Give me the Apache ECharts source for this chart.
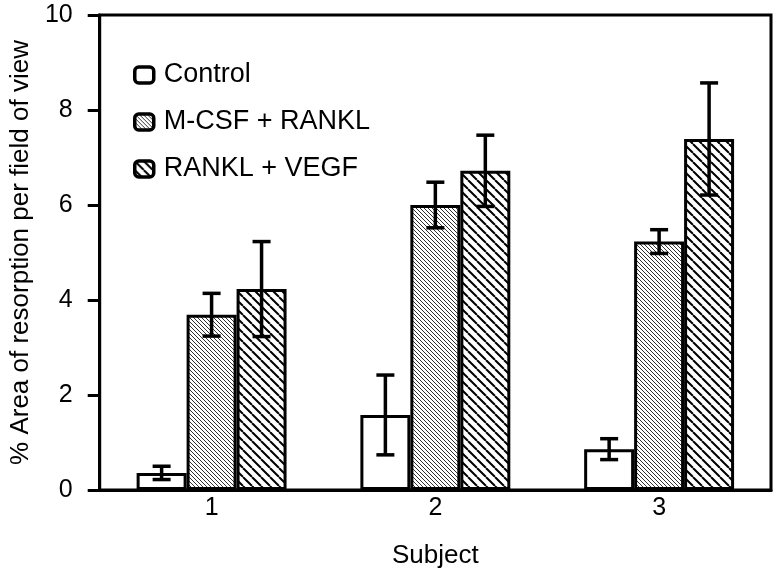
<!DOCTYPE html>
<html>
<head>
<meta charset="utf-8">
<script src="https://cdn.jsdelivr.net/npm/echarts@6/dist/echarts.min.js"></script>
<style>html,body{margin:0;padding:0;background:#fff}#c{width:777px;height:577px}</style>
</head>
<body>
<div id="c"></div>
<script>
const categories = ['1', '2', '3'];
const seriesNames = ['Control', 'M-CSF + RANKL', 'RANKL + VEGF'];
const controlVals = [0.36, 1.58, 0.86];
const controlErr = [0.14, 0.84, 0.22];
const mcsfVals = [3.69, 6.0, 5.23];
const mcsfErr = [0.45, 0.48, 0.25];
const vegfVals = [4.23, 6.72, 7.39];
const vegfErr = [1.0, 0.75, 1.18];
const yTicks = [0, 2, 4, 6, 8, 10];

function hatch(n, lw, color) {
  const c = document.createElement('canvas');
  c.width = n; c.height = n;
  const g = c.getContext('2d');
  g.fillStyle = '#fff'; g.fillRect(0, 0, n, n);
  g.strokeStyle = color; g.lineWidth = lw;
  g.beginPath();
  for (const k of [-n, 0, n]) { g.moveTo(k, 0); g.lineTo(k + n, n); }
  g.stroke();
  return c;
}
const fine = hatch(4, 1, '#333');
const coarse = hatch(9, 2, '#000');

const vals = [controlVals, mcsfVals, vegfVals];
const errs = [controlErr, mcsfErr, vegfErr];
const fills = ['#fff', {image: fine, repeat: 'repeat'}, {image: coarse, repeat: 'repeat'}];

const errData = [];
vals.forEach((v, s) => v.forEach((m, i) => errData.push([i, m, errs[s][i], s])));

const FONT = 'Liberation Sans';
const chart = echarts.init(document.getElementById('c'));
chart.setOption({
  animation: false,
  textStyle: {fontFamily: FONT, color: '#000'},
  grid: {left: 97, right: 6, top: 15, bottom: 87, show: true, borderColor: '#000', borderWidth: 3},
  legend: {
    data: seriesNames, orient: 'vertical', left: 128, top: 56, itemWidth: 19, itemHeight: 16,
    itemGap: 19, itemStyle: {borderWidth: 3.5},
    textStyle: {fontSize: 27, lineHeight: 28, fontFamily: FONT, color: '#000', padding: [0, 0, 0, 5]}
  },
  xAxis: {
    type: 'category', data: categories, name: 'Subject', nameLocation: 'middle', nameGap: 53,
    nameTextStyle: {fontSize: 26, fontFamily: FONT, color: '#000'},
    axisLine: {lineStyle: {color: '#000', width: 3}},
    axisTick: {length: 10, lineStyle: {color: '#000', width: 3}},
    axisLabel: {fontSize: 25, color: '#000', margin: 6, fontFamily: FONT}
  },
  yAxis: {
    type: 'value', min: yTicks[0], max: yTicks[yTicks.length - 1], interval: 2,
    name: '% Area of resorption per field of view', nameLocation: 'middle', nameGap: 63,
    nameTextStyle: {fontSize: 26, fontFamily: FONT, color: '#000'},
    splitLine: {show: false},
    axisLine: {show: true, lineStyle: {color: '#000', width: 3}},
    axisTick: {show: true, length: 12, lineStyle: {color: '#000', width: 3}},
    axisLabel: {fontSize: 25, color: '#000', margin: 27, fontFamily: FONT}
  },
  series: seriesNames.map((name, s) => ({
    name, type: 'bar', data: vals[s], barGap: '0%', barCategoryGap: '33%',
    itemStyle: {color: fills[s], borderColor: '#000', borderWidth: 3}
  })).concat([{
    type: 'custom', name: 'err', data: errData, z: 10,
    renderItem: function (params, api) {
      const cat = api.value(0), m = api.value(1), e = api.value(2), s = api.value(3);
      const bw = api.size([1, 0])[0] * 0.67 / 3;
      const c = api.coord([cat, m]);
      const x = c[0] + (s - 1) * bw;
      const hi = api.coord([cat, m + e])[1];
      const lo = api.coord([cat, m - e])[1];
      const hw = 9;
      const st = {stroke: '#000', lineWidth: 3.5, fill: null};
      return {type: 'group', children: [
        {type: 'line', shape: {x1: x, y1: hi, x2: x, y2: lo}, style: st},
        {type: 'line', shape: {x1: x - hw, y1: hi, x2: x + hw, y2: hi}, style: st},
        {type: 'line', shape: {x1: x - hw, y1: lo, x2: x + hw, y2: lo}, style: st}
      ]};
    }
  }])
});
</script>
</body>
</html>
